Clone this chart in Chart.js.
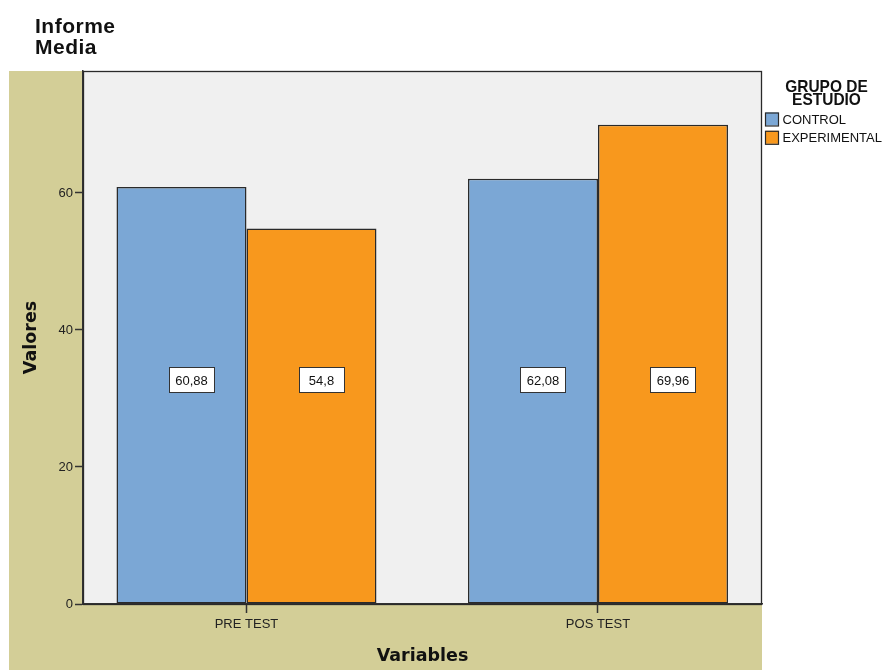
<!DOCTYPE html>
<html>
<head>
<meta charset="utf-8">
<script src="https://cdn.jsdelivr.net/npm/chart.js@4/dist/chart.umd.min.js"></script>
<style>
  html, body { margin: 0; padding: 0; background: #ffffff; }
  #wrap { width: 888px; height: 670px; position: relative; }
</style>
</head>
<body>
<div id="wrap"><canvas id="chart" width="888" height="670"></canvas></div>
<script>
// Group means per test moment
const categories = ['PRE TEST', 'POS TEST'];
const seriesNames = ['CONTROL', 'EXPERIMENTAL'];
const controlMeans = [60.88, 62.08];
const experimentalMeans = [54.8, 69.96];
const yTickValues = [0, 20, 40, 60];

const titleLines = ['Informe', 'Media'];
const legendTitleLines = ['GRUPO DE', 'ESTUDIO'];
const xAxisTitle = 'Variables';
const yAxisTitle = 'Valores';

const COLORS = ['#7ba7d5', '#f8981d'];
const EDGE = '#2a2a2a';
const TAN = '#d3ce97';
const PLOT_BG = '#f0f0f0';
const SANS = '"Liberation Sans", Arial, sans-serif';
const LABEL_LEVEL = 32.7;   // value height at which the mean boxes sit

const fmt = v => String(v).replace('.', ',');

const decor = {
  id: 'decor',
  beforeDraw(chart) {
    const { ctx, chartArea: a } = chart;
    ctx.save();
    ctx.fillStyle = '#ffffff';
    ctx.fillRect(0, 0, chart.width, chart.height);
    ctx.fillStyle = TAN;
    ctx.fillRect(9, a.top, a.right - 9, chart.height - a.top);
    ctx.fillStyle = PLOT_BG;
    ctx.fillRect(a.left, a.top, a.right - a.left, a.bottom - a.top);
    ctx.restore();
  },
  afterDraw(chart) {
    const { ctx, chartArea: a } = chart;
    const yScale = chart.scales.y;
    ctx.save();

    // frame of the plot area
    ctx.strokeStyle = EDGE;
    ctx.lineWidth = 1.3;
    ctx.strokeRect(a.left + 0.5, a.top + 0.5, a.right - a.left - 1, a.bottom - a.top);

    // mean labels in white boxes
    ctx.font = '13px ' + SANS;
    ctx.textAlign = 'center';
    ctx.textBaseline = 'middle';
    chart.data.datasets.forEach((ds, di) => {
      chart.getDatasetMeta(di).data.forEach((bar, i) => {
        const cx = bar.x + 10;
        const cy = yScale.getPixelForValue(LABEL_LEVEL);
        const w = 45, h = 25;
        ctx.fillStyle = '#ffffff';
        ctx.fillRect(cx - w / 2, cy - h / 2, w, h);
        ctx.strokeStyle = '#333333';
        ctx.lineWidth = 1;
        ctx.strokeRect(Math.round(cx - w / 2) + 0.5, Math.round(cy - h / 2) + 0.5, w, h);
        ctx.fillStyle = '#111111';
        ctx.fillText(fmt(ds.data[i].y), cx, cy + 1);
      });
    });

    // chart title
    ctx.fillStyle = '#111111';
    ctx.textAlign = 'left';
    ctx.textBaseline = 'alphabetic';
    ctx.font = 'bold 21px ' + SANS;
    ctx.letterSpacing = '0.5px';
    ctx.fillText(titleLines[0], 35, 32.5);
    ctx.fillText(titleLines[1], 35, 54);
    ctx.letterSpacing = '0px';

    // axis titles
    ctx.font = 'bold 17.5px "DejaVu Sans", sans-serif';
    ctx.textAlign = 'center';
    ctx.textBaseline = 'middle';
    ctx.fillText(xAxisTitle, (a.left + a.right) / 2, 656);
    ctx.save();
    ctx.translate(31, (a.top + a.bottom) / 2);
    ctx.rotate(-Math.PI / 2);
    ctx.fillText(yAxisTitle, 0, 0);
    ctx.restore();

    // legend
    ctx.save();
    ctx.font = 'bold 17px ' + SANS;
    ctx.textAlign = 'center';
    ctx.textBaseline = 'alphabetic';
    ctx.translate(826.5, 0);
    ctx.scale(0.91, 1);
    ctx.fillText(legendTitleLines[0], 0, 91.5);
    ctx.fillText(legendTitleLines[1], 0, 105);
    ctx.restore();

    ctx.font = '13px ' + SANS;
    ctx.textAlign = 'left';
    ctx.textBaseline = 'middle';
    chart.data.datasets.forEach((ds, di) => {
      const y = 112.5 + di * 18.3;
      ctx.fillStyle = ds.backgroundColor;
      ctx.fillRect(765.5, y, 13, 13);
      ctx.strokeStyle = EDGE;
      ctx.lineWidth = 1.2;
      ctx.strokeRect(765.5, y + 0.5, 13, 13);
      ctx.fillStyle = '#111111';
      ctx.fillText(ds.label, 782.5, y + 7.5);
    });

    ctx.restore();
  }
};

const toPoints = arr => arr.map((v, i) => ({ x: i, y: v }));

new Chart(document.getElementById('chart'), {
  type: 'bar',
  data: {
    datasets: [
      { label: seriesNames[0], data: toPoints(controlMeans), backgroundColor: COLORS[0] },
      { label: seriesNames[1], data: toPoints(experimentalMeans), backgroundColor: COLORS[1] }
    ]
  },
  options: {
    responsive: false,
    devicePixelRatio: 1,
    animation: false,
    layout: { padding: { left: 0, right: 126, top: 71, bottom: 0 } },
    datasets: {
      bar: {
        borderColor: EDGE,
        borderWidth: 1.5,
        borderSkipped: false,
        barPercentage: 1,
        categoryPercentage: 0.7397
      }
    },
    plugins: {
      legend: { display: false },
      tooltip: { enabled: false },
      title: { display: false }
    },
    scales: {
      x: {
        type: 'linear',
        offset: false,
        min: -0.4651,
        max: 1.4666,
        afterFit: s => { s.height = 66; },
        afterBuildTicks: s => { s.ticks = categories.map((_, i) => ({ value: i })); },
        ticks: {
          callback: v => categories[v] ?? '',
          font: { family: SANS, size: 13 },
          color: '#222222',
          padding: 4,
          maxRotation: 0,
          autoSkip: false
        },
        grid: {
          offset: false,
          drawOnChartArea: false,
          drawTicks: true,
          tickLength: 9,
          tickColor: '#333333',
          tickWidth: 1.5
        },
        border: { display: true, color: '#333333', width: 1.5 }
      },
      y: {
        min: 0,
        max: 77.8,
        afterFit: s => { s.width = 83; },
        afterBuildTicks: s => { s.ticks = yTickValues.map(v => ({ value: v })); },
        ticks: {
          font: { family: SANS, size: 13 },
          color: '#222222',
          padding: 2
        },
        grid: {
          drawOnChartArea: false,
          drawTicks: true,
          tickLength: 8,
          tickColor: '#333333',
          tickWidth: 1.5
        },
        border: { display: true, color: '#333333', width: 1.5 }
      }
    }
  },
  plugins: [decor]
});
</script>
</body>
</html>
